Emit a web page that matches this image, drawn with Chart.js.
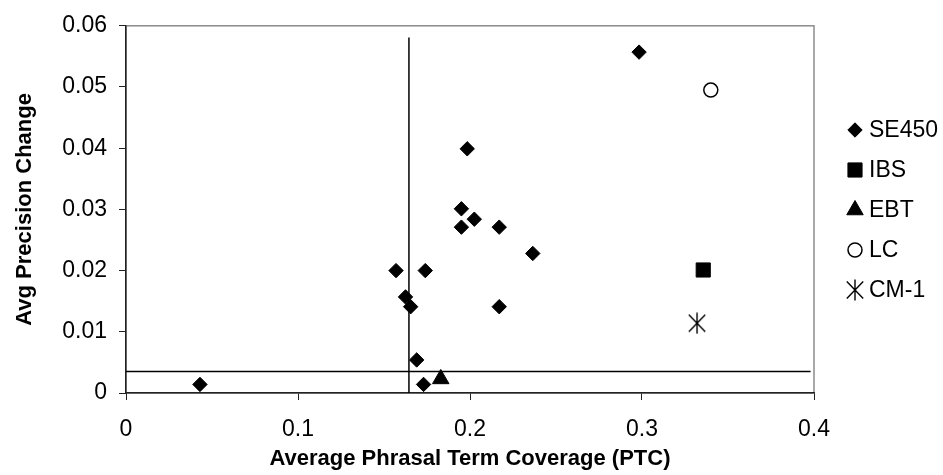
<!DOCTYPE html>
<html>
<head>
<meta charset="utf-8">
<script src="https://cdn.jsdelivr.net/npm/chart.js@4/dist/chart.umd.min.js"></script>
<style>
  html, body { margin: 0; padding: 0; background: #fff; }
  #wrap { width: 943px; height: 475px; position: relative; }
</style>
</head>
<body>
<div id="wrap"><canvas id="chart"></canvas></div>
<script>
// Series values: x = average phrasal term coverage, y = average precision change
const se450X = [0.043, 0.157, 0.174, 0.1625, 0.1655, 0.169, 0.173, 0.195, 0.195, 0.2025, 0.217, 0.2365, 0.217, 0.2983, 0.1984];
const se450Y = [0.0014, 0.0200, 0.0200, 0.0157, 0.0141, 0.0054, 0.0014, 0.0301, 0.0271, 0.0284, 0.0271, 0.0228, 0.0141, 0.0557, 0.0399];
const ibsX = [0.3356];
const ibsY = [0.0201];
const ebtX = [0.183];
const ebtY = [0.0023];
const lcX = [0.340];
const lcY = [0.0495];
const cm1X = [0.332];
const cm1Y = [0.0114];

// Threshold lines
const vLineX = [0.1645, 0.1645];
const vLineY = [0, 0.0581];
const hLineX = [0, 0.398];
const hLineY = [0.0035, 0.0035];

// Axis ticks
const xTicks = [0, 0.1, 0.2, 0.3, 0.4];
const xTickLabels = ['0', '0.1', '0.2', '0.3', '0.4'];
const yTicks = [0, 0.01, 0.02, 0.03, 0.04, 0.05, 0.06];
const yTickLabels = ['0', '0.01', '0.02', '0.03', '0.04', '0.05', '0.06'];

const seriesNames = ['SE450', 'IBS', 'EBT', 'LC', 'CM-1'];

const FONT = "'Liberation Sans', Arial, sans-serif";

function pts(xs, ys) { return xs.map((x, i) => ({ x: x, y: ys[i] })); }

// Asterisk marker: vertical stroke with a cross through it
function makeAsterisk() {
  const c = document.createElement('canvas');
  c.width = 18; c.height = 22;
  const g = c.getContext('2d');
  g.strokeStyle = '#000';
  g.lineWidth = 1.4;
  g.beginPath();
  g.moveTo(9, 0.5); g.lineTo(9, 21.5);
  g.moveTo(0.8, 2.5); g.lineTo(17.2, 19.5);
  g.moveTo(17.2, 2.5); g.lineTo(0.8, 19.5);
  g.stroke();
  return c;
}
const asterisk = makeAsterisk();

const markerStyles = [
  { pointStyle: 'rectRot', radius: 7.2, bg: '#000', border: '#000', bw: 1 },
  { pointStyle: 'rect', radius: 10, bg: '#000', border: '#000', bw: 1 },
  { pointStyle: 'triangle', radius: 9.5, bg: '#000', border: '#000', bw: 1 },
  { pointStyle: 'circle', radius: 7, bg: '#fff', border: '#000', bw: 1.5 },
  { pointStyle: asterisk, radius: 10, bg: '#000', border: '#000', bw: 0 }
];

const seriesData = [pts(se450X, se450Y), pts(ibsX, ibsY), pts(ebtX, ebtY), pts(lcX, lcY), pts(cm1X, cm1Y)];

const datasets = seriesNames.map((name, i) => ({
  label: name,
  data: seriesData[i],
  pointStyle: markerStyles[i].pointStyle,
  pointRadius: markerStyles[i].radius,
  pointBackgroundColor: markerStyles[i].bg,
  pointBorderColor: markerStyles[i].border,
  pointBorderWidth: markerStyles[i].bw,
  showLine: false,
  order: 0
}));

datasets.push({
  label: 'vline', data: pts(vLineX, vLineY), showLine: true, pointRadius: 0,
  borderColor: '#000', borderWidth: 1.5, order: 1
});
datasets.push({
  label: 'hline', data: pts(hLineX, hLineY), showLine: true, pointRadius: 0,
  borderColor: '#000', borderWidth: 1.5, order: 1
});

// Gray frame around the plot area
const plotFrame = {
  id: 'plotFrame',
  beforeDraw(chart) {
    const { ctx, chartArea: a } = chart;
    ctx.save();
    ctx.strokeStyle = '#8c8c8c';
    ctx.lineWidth = 1.5;
    ctx.strokeRect(a.left, a.top, a.right - a.left, a.bottom - a.top);
    ctx.restore();
  }
};

// Legend to the right of the plot
const sideLegend = {
  id: 'sideLegend',
  afterDraw(chart) {
    const ctx = chart.ctx;
    const markerX = 855, textX = 869, firstY = 130, step = 40;
    ctx.save();
    ctx.font = '23px ' + FONT;
    ctx.textBaseline = 'middle';
    ctx.textAlign = 'left';
    seriesNames.forEach((name, i) => {
      const y = firstY + i * step;
      const m = markerStyles[i];
      ctx.fillStyle = m.bg;
      ctx.strokeStyle = m.border;
      ctx.lineWidth = m.bw;
      Chart.helpers.drawPoint(ctx, {
        pointStyle: m.pointStyle, radius: m.radius, rotation: 0, borderWidth: m.bw
      }, markerX, y);
      ctx.fillStyle = '#000';
      ctx.fillText(name, textX, y + 1);
    });
    ctx.restore();
  }
};

new Chart(document.getElementById('chart'), {
  type: 'scatter',
  data: { datasets: datasets },
  plugins: [plotFrame, sideLegend],
  options: {
    responsive: true,
    maintainAspectRatio: false,
    animation: false,
    layout: { padding: { top: 23, right: 129, left: 0, bottom: 0 } },
    plugins: { legend: { display: false }, tooltip: { enabled: false } },
    scales: {
      x: {
        type: 'linear', min: 0, max: 0.4,
        afterBuildTicks(scale) { scale.ticks = xTicks.map(v => ({ value: v })); },
        afterFit(scale) { scale.height = 82; },
        ticks: {
          callback: (v, i) => xTickLabels[i],
          color: '#000', padding: 16, maxRotation: 0,
          font: { family: FONT, size: 23 }
        },
        grid: { drawOnChartArea: false, drawTicks: true, tickLength: 7, color: '#222', lineWidth: 1 },
        border: { display: true, color: '#222', width: 1.5 },
        title: {
          display: true, text: 'Average Phrasal Term Coverage (PTC)', color: '#000',
          font: { family: FONT, size: 22, weight: 'bold' }, padding: { top: 0, bottom: 3 }
        }
      },
      y: {
        type: 'linear', min: 0, max: 0.06,
        afterBuildTicks(scale) { scale.ticks = yTicks.map(v => ({ value: v })); },
        afterFit(scale) { scale.width = 126; },
        ticks: {
          callback: (v, i) => yTickLabels[i],
          color: '#000', padding: 12,
          font: { family: FONT, size: 23 }
        },
        grid: { drawOnChartArea: false, drawTicks: true, tickLength: 7, color: '#222', lineWidth: 1 },
        border: { display: true, color: '#222', width: 1.5 },
        title: {
          display: true, text: 'Avg Precision Change', color: '#000',
          font: { family: FONT, size: 22, weight: 'bold' }, padding: { top: 12, bottom: 0 }
        }
      }
    }
  }
});
</script>
</body>
</html>
